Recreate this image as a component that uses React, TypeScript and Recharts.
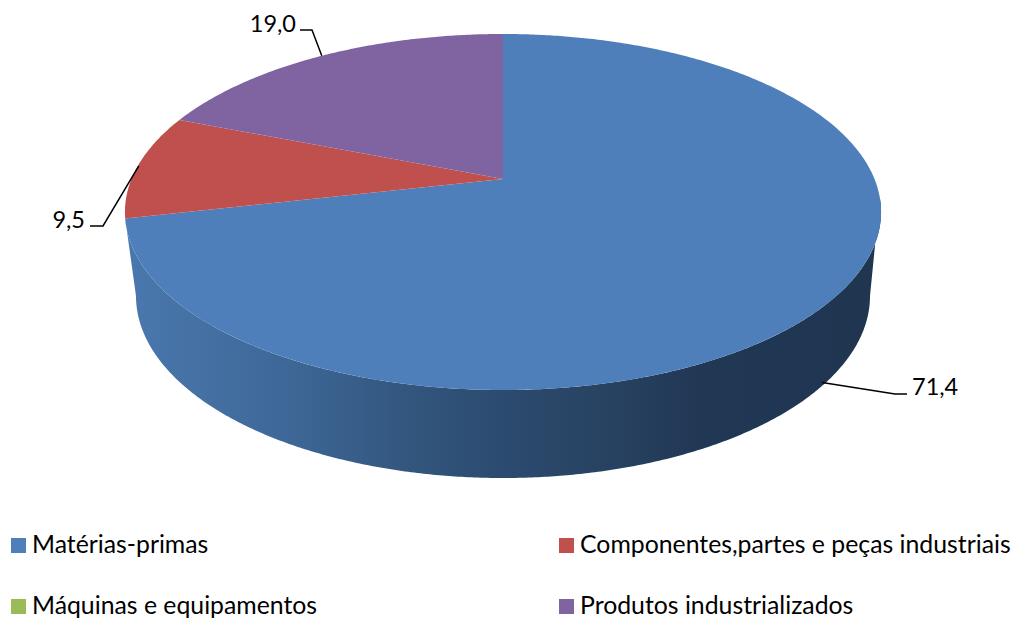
import { Cell, Legend, Pie, PieChart } from "recharts";

const categories = ["Matérias-primas", "Componentes,partes e peças industriais", "Máquinas e equipamentos", "Produtos industrializados"];
const values = [71.4, 9.5, 0, 19.0];
const valueLabels = ["71,4", "9,5", "0,0", "19,0"];
const colors = ["#4f7fbb", "#c0504d", "#9bbb59", "#8064a2"];

const data = categories.map((name, i) => ({ name, value: values[i], text: valueLabels[i] }));

// tilted disc: unit circle -> screen, apex of the slices sits above the ellipse centre
const CX = 503;
const CY = 179;
const R = 371.5;
const PERSP = 0.1854;
const TILT = 138.7;

const project = (deg: number) => {
  const rad = (deg * Math.PI) / 180;
  const u = Math.cos(rad);
  const v = Math.sin(rad);
  const d = 1 + PERSP * v;
  return { x: CX + (R * u) / d, y: (CY - TILT * v) / d };
};

// lower rim of the side wall
const wallPoint = (deg: number) => {
  const rad = (deg * Math.PI) / 180;
  return { x: CX + 367 * Math.cos(rad), y: 296 - 182 * Math.sin(rad) };
};

const arcPoints = (from: number, to: number, fn: (d: number) => { x: number; y: number }) => {
  const steps = Math.max(2, Math.ceil(Math.abs(to - from) * 2));
  const out: string[] = [];
  for (let i = 0; i <= steps; i++) {
    const p = fn(from + ((to - from) * i) / steps);
    out.push(`${p.x.toFixed(2)} ${p.y.toFixed(2)}`);
  }
  return out;
};

const DiscSlice = (props: any) => {
  const { startAngle, endAngle, fill, index } = props;
  if (startAngle === endAngle) return null;
  const top = `M${CX} ${CY} L${arcPoints(startAngle, endAngle, project).join(" L")} Z`;
  let wall = null;
  if (index === 0) {
    // visible front of the wall: right tangent round to where the blue slice ends
    const upper = arcPoints(-6, endAngle, project);
    const lower = arcPoints(180, 360, wallPoint);
    wall = <path d={`M${upper.join(" L")} L${lower.join(" L")} Z`} fill="url(#wallShade)" stroke="none" />;
  }
  return (
    <g>
      {wall}
      <path d={top} fill={fill} stroke="none" />
    </g>
  );
};

const leaders: Record<string, { dx: number; dy: number; knee: number[]; end: number[]; textAt: number[]; anchor: "start" | "end" }> = {
  "71,4": { dx: -9, dy: 82, knee: [895, 394], end: [907, 394], textAt: [912, 395], anchor: "start" },
  "9,5": { dx: 1, dy: 0, knee: [103, 226], end: [90, 226], textAt: [85, 228], anchor: "end" },
  "19,0": { dx: 0, dy: 0, knee: [312, 30], end: [300, 30], textAt: [296, 32], anchor: "end" },
};

const ValueLabel = (props: any) => {
  const { midAngle, payload } = props;
  const cfg = leaders[payload.text];
  if (!payload.value || !cfg) return null;
  const p = project(midAngle);
  const pts = [[p.x + cfg.dx, p.y + cfg.dy], cfg.knee, cfg.end].map((c) => c.join(",")).join(" ");
  return (
    <g>
      <polyline points={pts} fill="none" stroke="#000" strokeWidth={1.5} />
      <text x={cfg.textAt[0]} y={cfg.textAt[1]} textAnchor={cfg.anchor} fontFamily="Lato" fontSize={23.5} fill="#000">
        {payload.text}
      </text>
    </g>
  );
};

const LegendGrid = () => (
  <div style={{ position: "relative", width: 1013, height: 88, fontFamily: "Lato", fontSize: 24.8, color: "#000" }}>
    {categories.map((name, i) => {
      const col = i % 2;
      const row = Math.floor(i / 2);
      return (
        <div key={name} style={{ position: "absolute", left: col ? 559 : 11, top: row * 61, whiteSpace: "nowrap", height: 28, lineHeight: "28px" }}>
          <span style={{ position: "absolute", left: 0, top: 8, width: 15, height: 15, background: colors[i] }} />
          <span style={{ position: "absolute", left: 21, top: 0 }}>{name}</span>
        </div>
      );
    })}
  </div>
);

export default function App() {
  return (
    <div style={{ position: "absolute", left: 0, top: 0, width: 1013, height: 618, background: "#fff" }}>
      <PieChart width={1013} height={618} margin={{ top: 0, right: 0, bottom: 0, left: 0 }}>
        <defs>
          <linearGradient id="wallShade" gradientUnits="userSpaceOnUse" x1={125} y1={0} x2={881} y2={0}>
            <stop offset="0" stopColor="#4a78ae" />
            <stop offset="0.23" stopColor="#3d6695" />
            <stop offset="0.364" stopColor="#33577f" />
            <stop offset="0.496" stopColor="#2c4b70" />
            <stop offset="0.628" stopColor="#284362" />
            <stop offset="0.76" stopColor="#213855" />
            <stop offset="1" stopColor="#1f3550" />
          </linearGradient>
        </defs>
        <Pie
          data={data}
          dataKey="value"
          nameKey="name"
          cx={CX}
          cy={CY}
          outerRadius={R}
          startAngle={90}
          endAngle={-270}
          stroke="none"
          shape={DiscSlice}
          label={ValueLabel}
          labelLine={false}
          isAnimationActive={false}
        >
          {data.map((d, i) => (
            <Cell key={d.name} fill={colors[i]} />
          ))}
        </Pie>
        <Legend content={LegendGrid} wrapperStyle={{ position: "absolute", left: 0, top: 530, width: 1013 }} />
      </PieChart>
    </div>
  );
}
